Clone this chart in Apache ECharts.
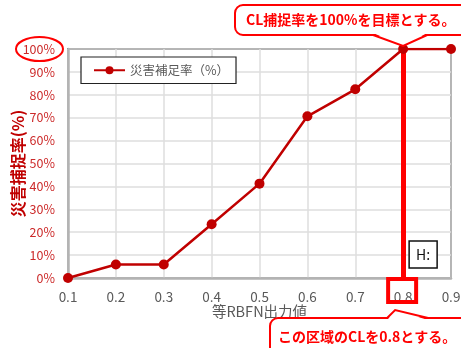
<!DOCTYPE html>
<html><head><meta charset="utf-8">
<script src="https://cdn.jsdelivr.net/npm/echarts@6/dist/echarts.min.js"></script>
<style>html,body{margin:0;padding:0;background:#fff}#c{width:461px;height:348px}</style>
</head><body><div id="c"></div>
<script>
const categories = ['0.1','0.2','0.3','0.4','0.5','0.6','0.7','0.8','0.9'];
const captureRate = [0, 5.9, 5.9, 23.5, 41.2, 70.6, 82.4, 100, 100];
const seriesName = '災害補足率（%）';
const yTitle = '災害捕捉率(%)';
const xTitle = '等RBFN出力値';
const targetCategory = '0.8';
const topNote = 'CL捕捉率を100%を目標とする。';
const bottomNote = 'この区域のCLを0.8とする。';
const FONT = '"Noto Sans CJK JP", "Noto Sans", sans-serif';

const chart = echarts.init(document.getElementById('c'), null, {renderer:'canvas'});
chart.setOption({
  animation:false,
  textStyle:{fontFamily:FONT},
  grid:{left:68,right:10,top:49,bottom:70,containLabel:false,outerBoundsMode:'none',show:true,borderColor:'#000',borderWidth:1.5,backgroundColor:'#fff'},
  legend:{
    left:81, top:57, padding:[7,7,7,12],
    backgroundColor:'#fff', borderColor:'#222', borderWidth:1.2,
    itemWidth:31, itemHeight:10, itemGap:4,
    textStyle:{fontFamily:FONT,fontSize:12.5,color:'#595959'},
    data:[seriesName]
  },
  xAxis:{
    type:'category', data:categories, boundaryGap:false,
    name:xTitle, nameLocation:'middle', nameGap:26, nameMoveOverlap:false,
    nameTextStyle:{fontFamily:FONT,fontSize:14.5,color:'#595959'},
    axisLine:{lineStyle:{color:'#b3b3b3',width:2.5}},
    axisTick:{show:false},
    axisLabel:{color:'#595959',fontSize:13.5,margin:12,fontFamily:FONT},
    splitLine:{show:true,lineStyle:{color:'#dedede',width:1.5}}
  },
  yAxis:{
    type:'value', min:0, max:100, interval:10,
    name:yTitle, nameLocation:'middle', nameGap:42, nameRotate:90, nameMoveOverlap:false,
    nameTextStyle:{fontFamily:FONT,fontSize:16,fontWeight:'bold',color:'#c00000'},
    axisLine:{show:true,lineStyle:{color:'#b3b3b3',width:2.5}},
    axisTick:{show:false},
    axisLabel:{formatter:'{value}%',color:'#cc2a2a',fontSize:12.5,margin:13,fontFamily:FONT},
    splitLine:{show:true,lineStyle:{color:'#dedede',width:1.5}}
  },
  series:[{
    name:seriesName, type:'line', data:captureRate,
    symbol:'circle', symbolSize:10,
    lineStyle:{color:'#c00000',width:2.5},
    itemStyle:{color:'#c00000'},
    z:5,
    markLine:{
      silent:true, symbol:['none','none'], label:{show:false},
      lineStyle:{color:'#ff0000',width:5,type:'solid'},
      z:3,
      data:[[{coord:[targetCategory,0]},{coord:[targetCategory,100]}]]
    }
  }]
});

const pTop = chart.convertToPixel({gridIndex:0}, [targetCategory, 100]);
const pBot = chart.convertToPixel({gridIndex:0}, [targetCategory, 0]);
const p100 = chart.convertToPixel({gridIndex:0}, [categories[0], 100]);
const RED = '#ff0000';

const g = [];
g.push({type:'ellipse', shape:{cx:p100[0]-28.5, cy:p100[1], rx:23.5, ry:12}, style:{fill:'none',stroke:RED,lineWidth:2}, z:50});
g.push({type:'rect', shape:{x:pBot[0]-15, y:pBot[1]+1, width:28, height:23}, style:{fill:'none',stroke:RED,lineWidth:4}, z:50});
g.push({type:'rect', shape:{x:pBot[0]+6, y:pBot[1]-37, width:28, height:27}, style:{fill:'#fff',stroke:'#111',lineWidth:1.5}, z:50});
g.push({type:'text', x:pBot[0]+20, y:pBot[1]-23.5, style:{text:'H:',fill:'#111',font:'14px '+FONT,textAlign:'center',textVerticalAlign:'middle'}, z:51});

const tTip = [pTop[0], pTop[1]-3];
g.push({type:'rect', shape:{x:235, y:5, width:260, height:30, r:8}, style:{fill:'#fff',stroke:RED,lineWidth:2}, z:60});
g.push({type:'polygon', shape:{points:[[tTip[0]-30,33],[tTip[0],tTip[1]],[tTip[0]+24,33]]}, style:{fill:'#fff'}, z:61});
g.push({type:'polyline', shape:{points:[[tTip[0]-30,35],[tTip[0],tTip[1]],[tTip[0]+24,35]]}, style:{stroke:RED,lineWidth:2,fill:'none'}, z:62});
g.push({type:'text', x:246, y:20, style:{text:topNote,fill:RED,font:'bold 14px '+FONT,textVerticalAlign:'middle'}, z:63});

const bTip = [pBot[0]-8, pBot[1]+32];
g.push({type:'rect', shape:{x:270, y:318, width:220, height:45, r:8}, style:{fill:'#fff',stroke:RED,lineWidth:2}, z:60});
g.push({type:'polygon', shape:{points:[[bTip[0]-8,320],[bTip[0],bTip[1]],[bTip[0]+33,320]]}, style:{fill:'#fff'}, z:61});
g.push({type:'polyline', shape:{points:[[bTip[0]-8,318],[bTip[0],bTip[1]],[bTip[0]+33,318]]}, style:{stroke:RED,lineWidth:2,fill:'none'}, z:62});
g.push({type:'text', x:278, y:337, style:{text:bottomNote,fill:RED,font:'bold 14px '+FONT,textVerticalAlign:'middle'}, z:63});

chart.setOption({graphic:g});
</script>
</body></html>
